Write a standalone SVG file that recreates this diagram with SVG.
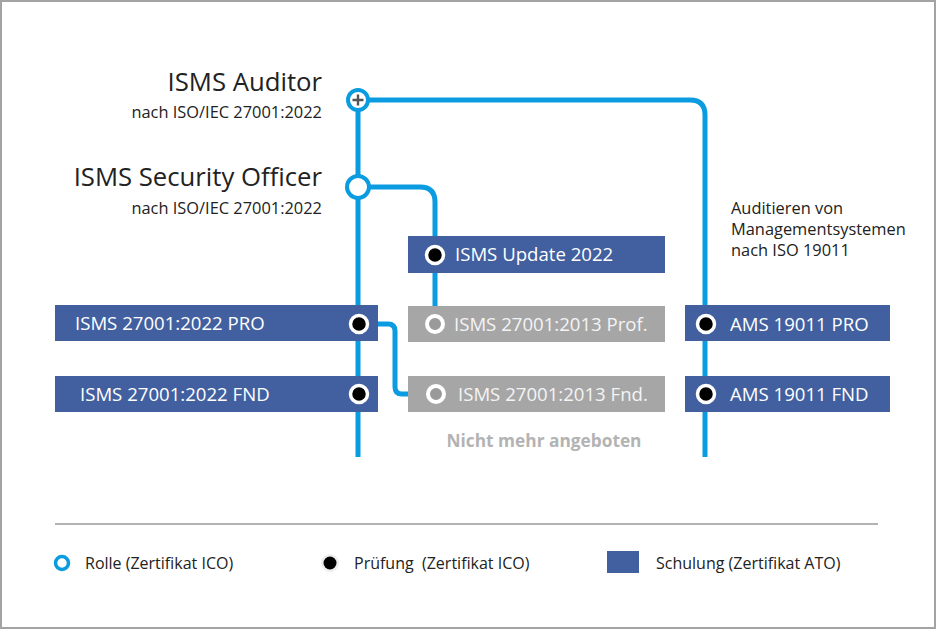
<svg xmlns="http://www.w3.org/2000/svg" width="936" height="629" viewBox="0 0 936 629">
<style>
text{font-family:"Open Sans","Noto Sans","Liberation Sans",sans-serif;}
.line{fill:none;stroke:#0b9be0;stroke-width:5;stroke-linecap:butt;stroke-linejoin:round;}
.blue{fill:#42609f;}
.grey{fill:#a6a6a6;}
.bt{fill:#ffffff;font-size:18.6px;}
.gt{fill:#f4f4f4;font-size:18.6px;}
.exam{fill:#000;stroke:#fff;stroke-width:3.5;}
.gexam{fill:#9a9a9a;stroke:#fff;stroke-width:4;}
.role{fill:#fff;stroke:#0b9be0;stroke-width:4;}
.big{fill:#222;font-size:25.7px;}
.small{fill:#222;font-size:16.4px;}
.leg{fill:#222;font-size:16px;}
</style>
<rect x="1" y="1" width="934" height="627" fill="#fff" stroke="#a3a3a3" stroke-width="2"/>

<g id="connectors">
<path class="line" d="M358,100 V457"/>
<path class="line" d="M358,100 H690 Q705,100 705,115 V457"/>
<path class="line" d="M358,187 H420 Q435,187 435,202 V324"/>
<path class="line" d="M359,324 H388 Q395,324 395,331 V387 Q395,394 402,394 H436"/>
</g>

<g id="box-isms-update">
<rect class="blue" x="408" y="236" width="257" height="37"/>
<text class="bt" x="455" y="261">ISMS Update 2022</text>
</g>
<g id="box-isms-2013-prof">
<rect class="grey" x="408" y="306" width="257" height="36"/>
<text class="gt" x="454" y="330.5">ISMS 27001:2013 Prof.</text>
</g>
<g id="box-isms-2013-fnd">
<rect class="grey" x="408" y="376" width="257" height="36"/>
<text class="gt" x="458" y="400.5">ISMS 27001:2013 Fnd.</text>
</g>
<g id="box-isms-2022-pro">
<rect class="blue" x="55" y="305" width="323" height="36"/>
<text class="bt" x="75" y="330">ISMS 27001:2022 PRO</text>
</g>
<g id="box-isms-2022-fnd">
<rect class="blue" x="55" y="376" width="323" height="36"/>
<text class="bt" x="80" y="401">ISMS 27001:2022 FND</text>
</g>
<g id="box-ams-pro">
<rect class="blue" x="685" y="305" width="205" height="36"/>
<text class="bt" x="730" y="330.5">AMS 19011 PRO</text>
</g>
<g id="box-ams-fnd">
<rect class="blue" x="685" y="376" width="205" height="36"/>
<text class="bt" x="730" y="401">AMS 19011 FND</text>
</g>

<g id="exam-update"><circle class="exam" cx="435" cy="255" r="8.5"/></g>
<g id="exam-2013-prof"><circle class="gexam" cx="435" cy="324" r="8"/></g>
<g id="exam-2013-fnd"><circle class="gexam" cx="436" cy="394" r="8"/></g>
<g id="exam-2022-pro"><circle class="exam" cx="359" cy="324" r="8.5"/></g>
<g id="exam-2022-fnd"><circle class="exam" cx="359" cy="394" r="8.5"/></g>
<g id="exam-ams-pro"><circle class="exam" cx="706" cy="324" r="8.5"/></g>
<g id="exam-ams-fnd"><circle class="exam" cx="706" cy="394" r="8.5"/></g>

<g id="role-auditor">
<circle class="role" cx="358" cy="100" r="10"/>
<path d="M352.5,100 H363.5 M358,94.5 V105.5" stroke="#555" stroke-width="2.4"/>
<text class="big" x="322" y="91" text-anchor="end">ISMS Auditor</text>
<text class="small" x="322" y="118" text-anchor="end">nach ISO/IEC 27001:2022</text>
</g>
<g id="role-security-officer">
<circle class="role" cx="358" cy="187" r="11"/>
<text class="big" x="322" y="186" text-anchor="end">ISMS Security Officer</text>
<text class="small" x="322" y="214" text-anchor="end">nach ISO/IEC 27001:2022</text>
</g>

<g id="ams-note">
<text class="small" x="731" y="214">Auditieren von</text>
<text class="small" x="731" y="235">Managementsystemen</text>
<text class="small" x="731" y="256">nach ISO 19011</text>
</g>

<text x="544" y="447" text-anchor="middle" fill="#b3b3b3" font-size="17.3" font-weight="bold">Nicht mehr angeboten</text>

<g id="legend">
<line x1="55" y1="524" x2="878" y2="524" stroke="#9a9a9a" stroke-width="1.5"/>
<circle cx="62" cy="563" r="6.5" fill="#fff" stroke="#0b9be0" stroke-width="3.5"/>
<text class="leg" x="85" y="569">Rolle (Zertifikat ICO)</text>
<circle cx="330" cy="563" r="9" fill="#eee"/>
<circle cx="330" cy="563" r="6.5" fill="#000"/>
<text class="leg" x="354" y="569">Prüfung&#160; (Zertifikat ICO)</text>
<rect x="607" y="551" width="32" height="22" fill="#42609f"/>
<text class="leg" x="656" y="569">Schulung (Zertifikat ATO)</text>
</g>
</svg>
